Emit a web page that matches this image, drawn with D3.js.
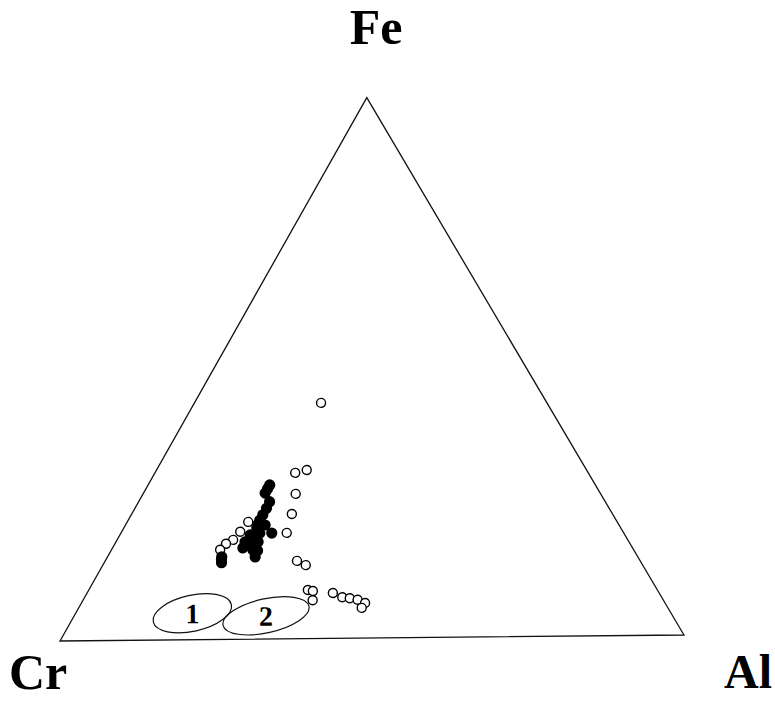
<!DOCTYPE html>
<html>
<head>
<meta charset="utf-8">
<script src="https://cdn.jsdelivr.net/npm/d3@7"></script>
<style>
  body { margin: 0; background: #fff; }
  svg text { font-family: "Liberation Serif", "Times New Roman", serif; font-weight: bold; fill: #000; }
</style>
</head>
<body>
<svg id="chart" width="775" height="701"></svg>
<script>
// vertex labels of the ternary plot
const vertices = ['Cr', 'Fe', 'Al'];

// open circles, [Cr, Fe, Al] in %
const openPoints = [
  [36.0, 43.6, 20.4], [46.7, 30.7, 22.6], [44.6, 31.2, 24.2], [48.6, 26.8, 24.6],
  [51.1, 23.1, 25.8], [53.7, 19.6, 26.7], [54.7, 14.4, 30.9], [53.7, 13.6, 32.7],
  [58.8, 21.7, 19.5], [61.0, 19.9, 19.1], [62.9, 18.4, 18.7], [64.4, 17.7, 17.9],
  [65.9, 16.6, 17.5], [55.7, 9.0, 35.3], [55.0, 8.8, 36.2], [55.9, 7.1, 37.0],
  [52.0, 8.4, 39.6], [50.9, 7.6, 41.5], [49.8, 7.4, 42.8], [48.7, 7.1, 44.2],
  [47.8, 6.5, 45.7], [48.8, 5.6, 45.6]
];

// filled circles, [Cr, Fe, Al] in %
const filledPoints = [
  [51.9, 28.5, 19.6], [53.4, 27.0, 19.6], [53.5, 25.4, 21.1], [55.8, 23.0, 21.2],
  [56.8, 22.0, 21.2], [56.1, 19.6, 24.3], [58.0, 20.6, 21.4], [59.7, 19.3, 21.0],
  [61.2, 18.0, 20.8], [62.1, 16.9, 21.0], [60.7, 16.5, 22.8], [61.0, 15.2, 23.8],
  [58.0, 19.6, 22.4], [66.3, 15.3, 18.4], [66.9, 14.2, 18.9], [60.1, 18.0, 21.9],
  [59.1, 18.0, 22.9], [61.0, 17.4, 21.6], [56.4, 21.1, 22.5], [52.6, 27.8, 19.6],
  [54.6, 24.2, 21.2], [57.4, 21.3, 21.3], [58.9, 19.0, 22.1], [60.4, 17.7, 21.9],
  [66.6, 14.8, 18.6], [60.0, 16.4, 23.6]
];

// compositional fields 1 and 2 (centres as [Cr, Fe, Al] in %)
const fieldLabels = ['1', '2'];
const fieldCentres = [[76.3, 4.9, 18.8], [64.8, 4.3, 30.9]];

const side = 624;
const height = side * Math.sqrt(3) / 2;

const svg = d3.select('#chart');
const plot = svg.append('g')
  .attr('transform', 'translate(60,641) rotate(-0.55)');

// ternary -> cartesian through linear scales
const xScale = d3.scaleLinear().domain([0, 100]).range([0, side]);
const yScale = d3.scaleLinear().domain([0, 100]).range([0, -height]);
const px = d => xScale(d[2] + d[1] / 2);
const py = d => yScale(d[1]);

// triangle outline
const corners = [[100, 0, 0], [0, 100, 0], [0, 0, 100]];
plot.append('path')
  .attr('d', d3.line().x(px).y(py)(corners) + 'Z')
  .attr('fill', 'none')
  .attr('stroke', '#111')
  .attr('stroke-width', 1.3);

// fields
const fields = plot.selectAll('g.field')
  .data(fieldCentres)
  .enter()
  .append('g')
  .attr('class', 'field')
  .attr('transform', d => `translate(${px(d)},${py(d)})`);

fields.append('ellipse')
  .attr('rx', (d, i) => i === 0 ? 40 : 44)
  .attr('ry', (d, i) => i === 0 ? 18 : 17)
  .attr('transform', 'rotate(-12)')
  .attr('fill', 'none')
  .attr('stroke', '#111')
  .attr('stroke-width', 1.2);

fields.append('text')
  .attr('text-anchor', 'middle')
  .attr('y', 10)
  .attr('font-size', 28)
  .text((d, i) => fieldLabels[i]);

// open circles
plot.selectAll('circle.open')
  .data(openPoints)
  .enter()
  .append('circle')
  .attr('class', 'open')
  .attr('cx', px)
  .attr('cy', py)
  .attr('r', 4.5)
  .attr('fill', '#fff')
  .attr('stroke', '#000')
  .attr('stroke-width', 1.4);

// filled circles
plot.selectAll('circle.filled')
  .data(filledPoints)
  .enter()
  .append('circle')
  .attr('class', 'filled')
  .attr('cx', px)
  .attr('cy', py)
  .attr('r', 5.6)
  .attr('fill', '#000');

// vertex labels
svg.append('text').attr('x', 9).attr('y', 689).attr('font-size', 50).text(vertices[0]);
svg.append('text').attr('x', 376).attr('y', 44).attr('text-anchor', 'middle').attr('font-size', 50).text(vertices[1]);
svg.append('text').attr('x', 724).attr('y', 688).attr('font-size', 48).text(vertices[2]);
</script>
</body>
</html>
